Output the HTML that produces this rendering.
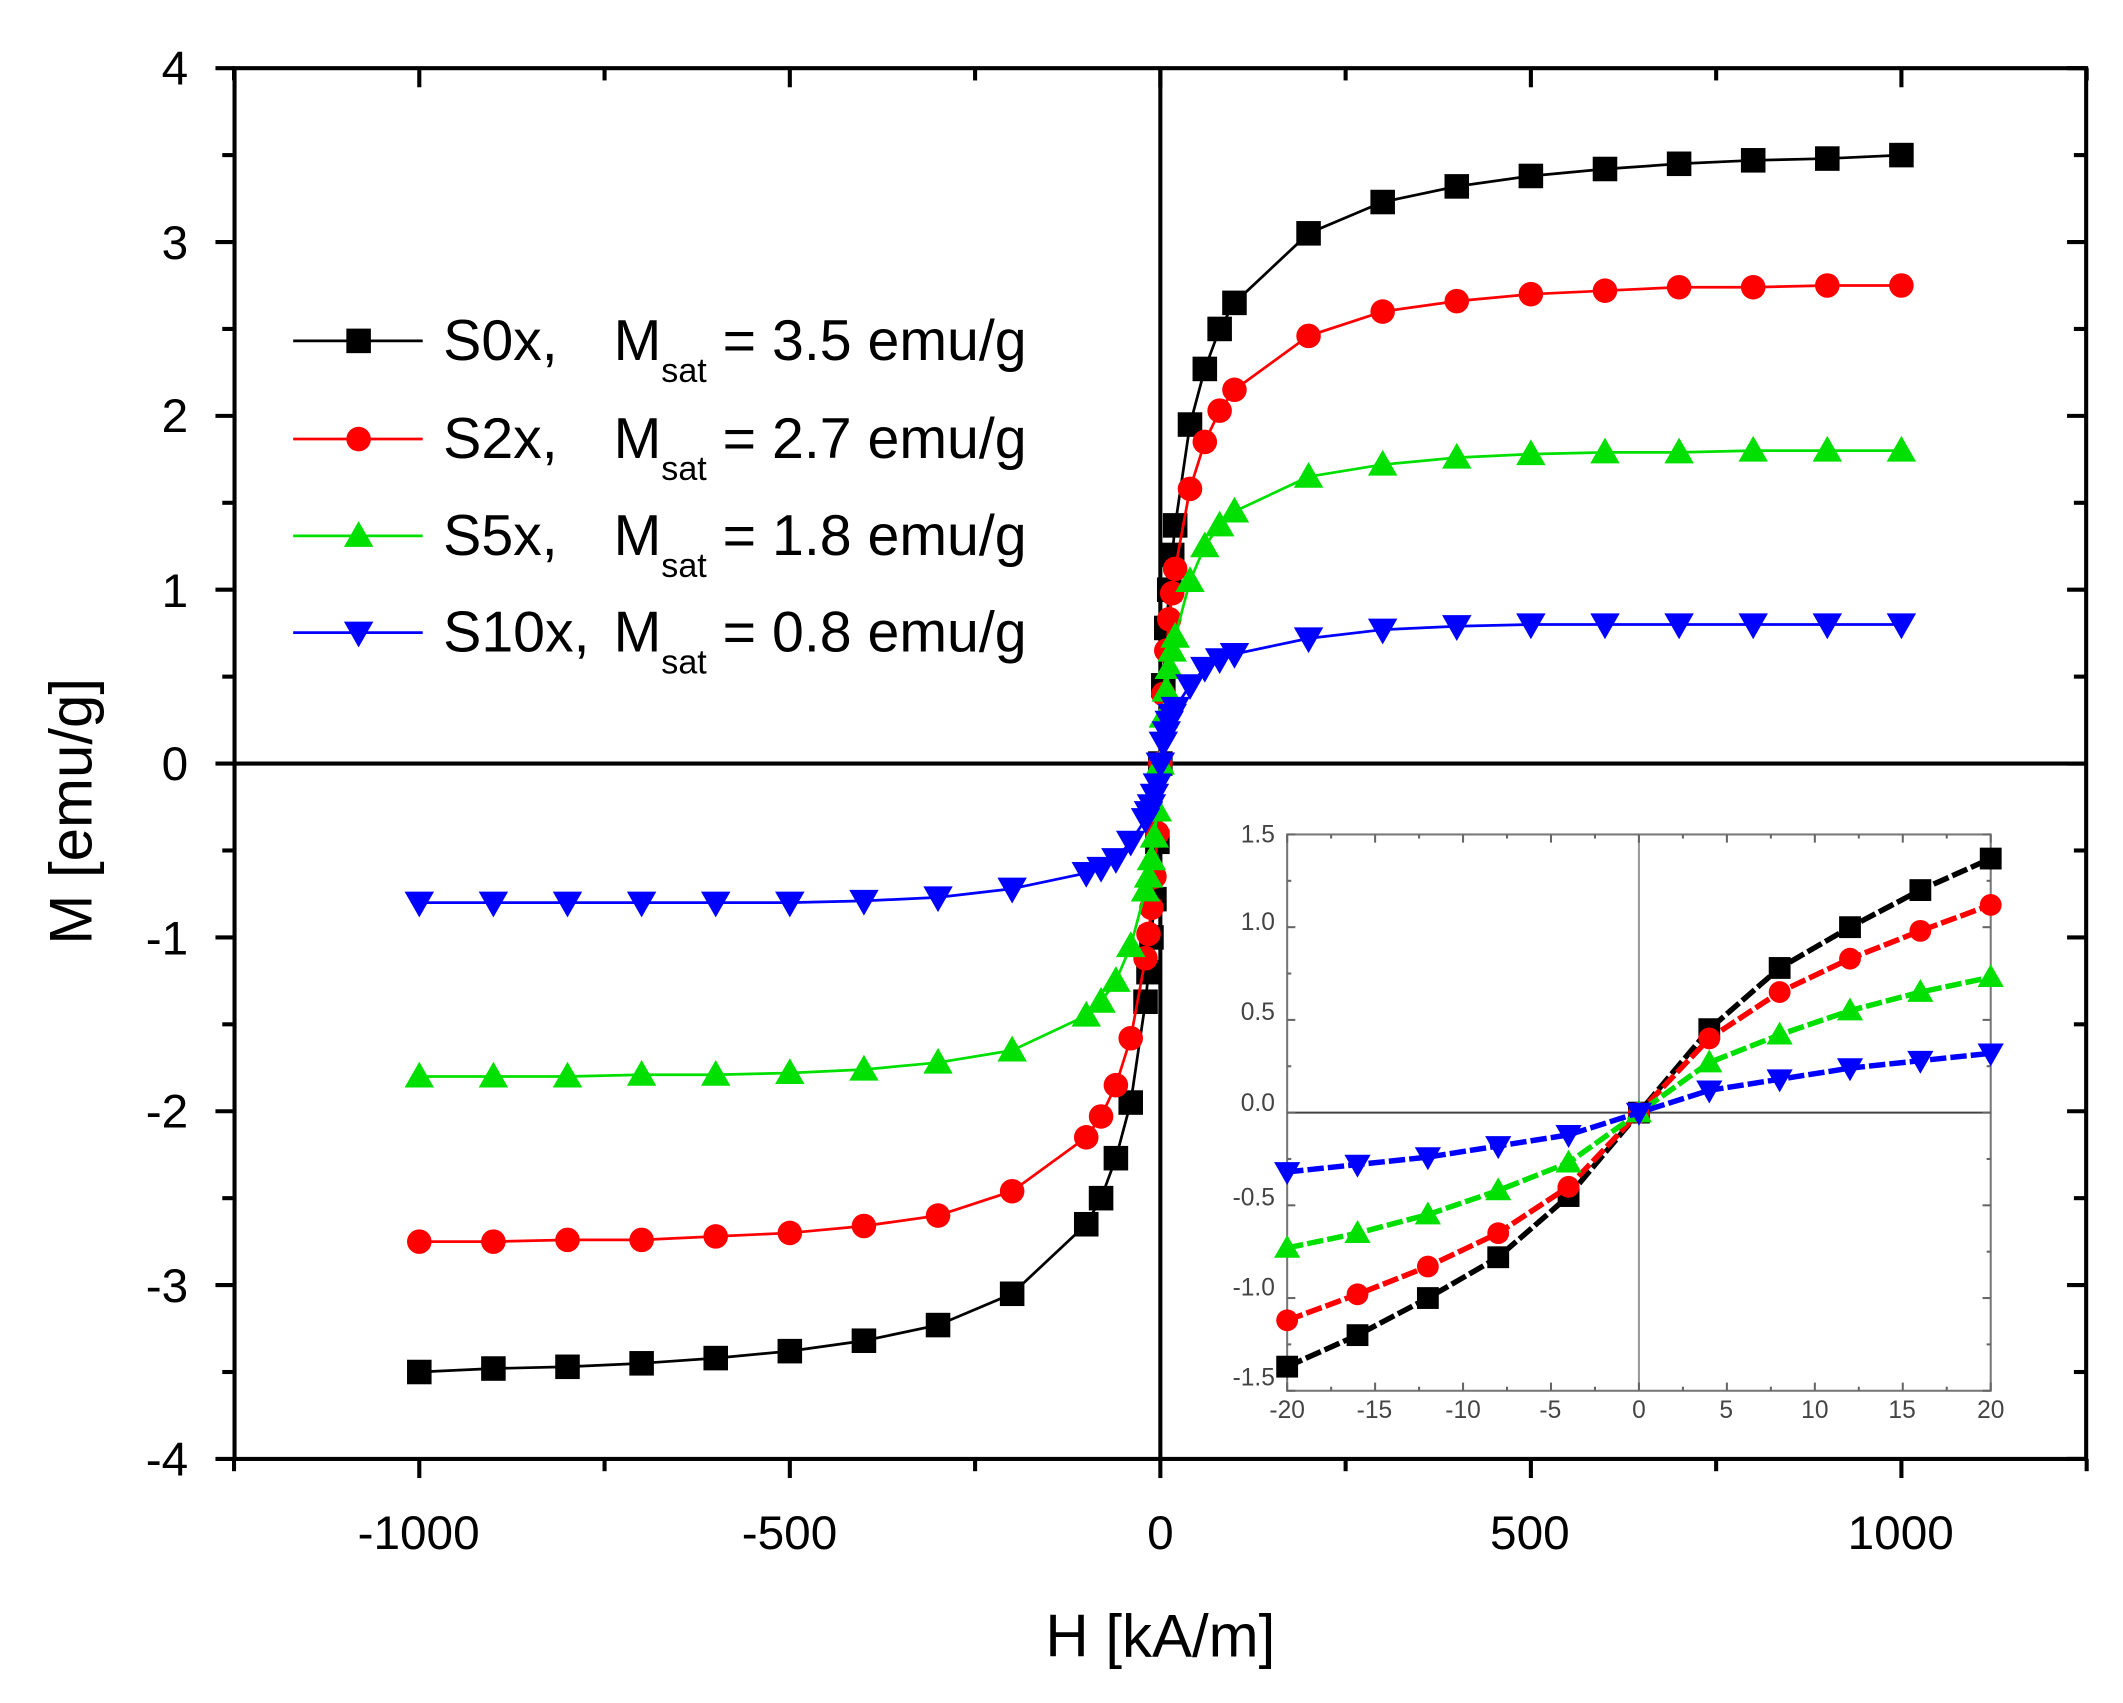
<!DOCTYPE html>
<html><head><meta charset="utf-8"><style>
html,body{margin:0;padding:0;background:#fff;}
svg{display:block;}
text{font-family:"Liberation Sans",Arial,sans-serif;}
</style></head><body>
<svg id="s" width="2123" height="1703" viewBox="0 0 1557 1249" xmlns="http://www.w3.org/2000/svg">
<rect width="1557" height="1249" fill="#fff"/>
<g id="axes" stroke="#000" stroke-width="3" fill="none">
<rect x="172" y="50" width="1358" height="1020"/>
<line x1="172" y1="560" x2="1530" y2="560"/>
<line x1="851" y1="50" x2="851" y2="1070"/>
</g>
<g id="ticks" stroke="#000" stroke-width="3"></g>
<g font-size="35" text-anchor="end" fill="#000">
<text x="138" y="62">4</text><text x="138" y="190">3</text><text x="138" y="317">2</text>
<text x="138" y="445">1</text><text x="138" y="572">0</text><text x="138" y="700">-1</text>
<text x="138" y="827">-2</text><text x="138" y="955">-3</text><text x="138" y="1082">-4</text>
</g>
<g font-size="35" text-anchor="middle" fill="#000">
<text x="307" y="1136">-1000</text><text x="579" y="1136">-500</text><text x="851" y="1136">0</text>
<text x="1122" y="1136">500</text><text x="1394" y="1136">1000</text>
</g>
<text x="851" y="1215" font-size="44" text-anchor="middle">H [kA/m]</text>
<text transform="translate(67,595) rotate(-90)" font-size="44" text-anchor="middle">M [emu/g]</text>
<g id="series"></g>
<g id="legend"></g>
<g font-size="42" fill="#000">
<text x="325" y="264">S0x,</text><text x="450" y="264">M<tspan font-size="25" dy="16">sat</tspan><tspan dy="-16"> = 3.5 emu/g</tspan></text>
<text x="325" y="336">S2x,</text><text x="450" y="336">M<tspan font-size="25" dy="16">sat</tspan><tspan dy="-16"> = 2.7 emu/g</tspan></text>
<text x="325" y="407">S5x,</text><text x="450" y="407">M<tspan font-size="25" dy="16">sat</tspan><tspan dy="-16"> = 1.8 emu/g</tspan></text>
<text x="325" y="478">S10x,</text><text x="450" y="478">M<tspan font-size="25" dy="16">sat</tspan><tspan dy="-16"> = 0.8 emu/g</tspan></text>
</g>
<rect x="944" y="612" width="516" height="408" fill="#fff"/>
<g stroke="#777" stroke-width="1.5" fill="none">
<rect x="944" y="612" width="516" height="408"/>
<line x1="944" y1="816" x2="1460" y2="816" stroke="#444"/>
<line x1="1202" y1="612" x2="1202" y2="1020" stroke="#999"/>
</g>
<g id="iticks" stroke="#666" stroke-width="1.5"></g>
<g font-size="18" fill="#444" text-anchor="end">
<text x="935" y="618">1.5</text><text x="935" y="682">1.0</text><text x="935" y="748">0.5</text>
<text x="935" y="815">0.0</text><text x="935" y="884">-0.5</text><text x="935" y="950">-1.0</text><text x="935" y="1016">-1.5</text>
</g>
<g font-size="18" fill="#444" text-anchor="middle">
<text x="944" y="1040">-20</text><text x="1008" y="1040">-15</text><text x="1073" y="1040">-10</text>
<text x="1137" y="1040">-5</text><text x="1202" y="1040">0</text><text x="1266" y="1040">5</text>
<text x="1331" y="1040">10</text><text x="1395" y="1040">15</text><text x="1460" y="1040">20</text>
</g>
<g id="iseries"></g>
</svg>
<script>
var NS="http://www.w3.org/2000/svg";
function el(p,t,a){var e=document.createElementNS(NS,t);for(var k in a)e.setAttribute(k,a[k]);p.appendChild(e);return e;}
var T=document.getElementById('ticks');
for(var v=-4;v<=4;v+=0.5){var y=560-v*127.5;var maj=(v%1===0);var L=maj?14:9;
el(T,'line',{x1:172-L,y1:y,x2:172,y2:y});el(T,'line',{x1:1530-L,y1:y,x2:1530,y2:y});}
for(var h=-1250;h<=1250;h+=250){var x=851+h*0.5435;var maj=(h%500===0);var L=maj?14:9;
el(T,'line',{x1:x,y1:1070,x2:x,y2:1070+L});el(T,'line',{x1:x,y1:50,x2:x,y2:50+L});}
var IT=document.getElementById('iticks');
for(var v=-1.5;v<=1.5001;v+=0.25){var y=816-v*136;var L=(Math.abs(v*2-Math.round(v*2))<1e-6)?6:3;
el(IT,'line',{x1:944,y1:y,x2:944+L,y2:y});el(IT,'line',{x1:1460-L,y1:y,x2:1460,y2:y});}
for(var h=-20;h<=20;h+=2.5){var x=1202+h*12.9;var L=(h%5===0)?6:3;
el(IT,'line',{x1:x,y1:1020,x2:x,y2:1020-L});el(IT,'line',{x1:x,y1:612,x2:x,y2:612+L});}
var H=[0,4,8,12,16,20,40,60,80,100,200,300,400,500,600,700,800,900,1000];
var D={
k:[0,.45,.78,1.0,1.2,1.37,1.95,2.27,2.5,2.65,3.05,3.23,3.32,3.38,3.42,3.45,3.47,3.48,3.5],
r:[0,.4,.65,.83,.98,1.12,1.58,1.85,2.03,2.15,2.46,2.6,2.66,2.7,2.72,2.74,2.74,2.75,2.75],
g:[0,.27,.42,.55,.65,.73,1.05,1.25,1.37,1.45,1.65,1.72,1.76,1.78,1.79,1.79,1.8,1.8,1.8],
b:[0,.12,.18,.24,.28,.32,.45,.55,.6,.63,.72,.77,.79,.8,.8,.8,.8,.8,.8]};
var C={k:'#000',r:'#ff0000',g:'#00e000',b:'#0000ff'};
var M={k:'sq',r:'ci',g:'up',b:'dn'};
function marker(p,type,x,y,s,c){
if(type=='sq')el(p,'rect',{x:x-s/2,y:y-s/2,width:s,height:s,fill:c});
else if(type=='ci')el(p,'circle',{cx:x,cy:y,r:s/2,fill:c});
else if(type=='up')el(p,'polygon',{points:(x-s*0.6)+','+(y+s*0.45)+' '+(x+s*0.6)+','+(y+s*0.45)+' '+x+','+(y-s*0.6),fill:c});
else el(p,'polygon',{points:(x-s*0.6)+','+(y-s*0.45)+' '+(x+s*0.6)+','+(y-s*0.45)+' '+x+','+(y+s*0.6),fill:c});}
var S=document.getElementById('series');
['k','r','g','b'].forEach(function(k){
var pts=[];for(var i=H.length-1;i>0;i--)pts.push([-H[i],-D[k][i]]);for(var i=0;i<H.length;i++)pts.push([H[i],D[k][i]]);
var P=pts.map(function(q){return [851+q[0]*0.5435,560-q[1]*127.5];});
el(S,'polyline',{points:P.map(function(q){return q.join(',')}).join(' '),fill:'none',stroke:C[k],'stroke-width':2});
P.forEach(function(q){marker(S,M[k],q[0],q[1],18,C[k]);});
});
var IS=document.getElementById('iseries');
['k','r','g','b'].forEach(function(k){
var pts=[];for(var i=5;i>0;i--)pts.push([-H[i],-D[k][i]]);for(var i=0;i<=5;i++)pts.push([H[i],D[k][i]]);
var P=pts.map(function(q){return [1202+q[0]*12.9,816-q[1]*136];});
el(IS,'polyline',{points:P.map(function(q){return q.join(',')}).join(' '),fill:'none',stroke:C[k],'stroke-width':4,'stroke-dasharray':'12,3'});
P.forEach(function(q){marker(IS,M[k],q[0],q[1],16,C[k]);});
});
var LG=document.getElementById('legend');var ly={k:250,r:322,g:393,b:464};
['k','r','g','b'].forEach(function(k){
el(LG,'line',{x1:215,y1:ly[k],x2:310,y2:ly[k],stroke:C[k],'stroke-width':2});
marker(LG,M[k],263,ly[k],18,C[k]);});
</script>
</body></html>
